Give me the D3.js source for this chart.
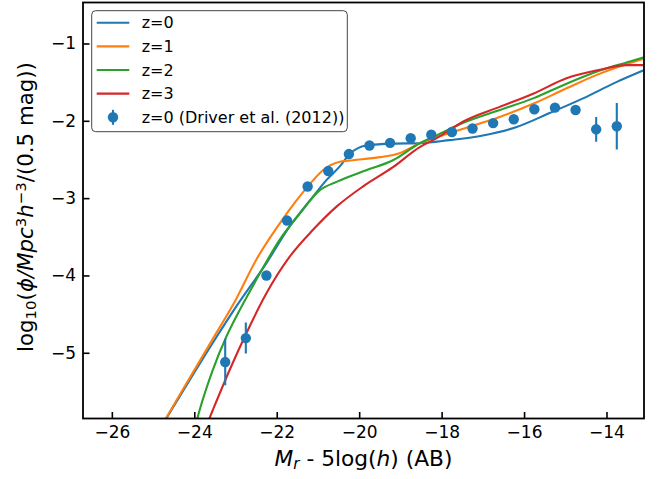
<!DOCTYPE html>
<html>
<head>
<meta charset="utf-8">
<script src="https://cdn.jsdelivr.net/npm/d3@7"></script>
<style>
  body { margin: 0; background: #fff; }
  svg { font-family: "DejaVu Sans", sans-serif; }
</style>
</head>
<body>
<svg id="chart" width="661" height="479"></svg>
<script>
// model luminosity functions, log10(phi) vs M_r - 5log(h)
var z0Mag = [-24.9, -24.68, -24.36, -23.55, -22.98, -22.25, -21.69, -21.12, -20.80, -20.47, -20.23, -19.83, -19.18, -18.53, -17.81, -17.00, -16.18, -15.38, -14.57, -13.76, -13.11];
var z0Phi = [-6.04, -5.85, -5.57, -4.87, -4.40, -3.84, -3.37, -2.98, -2.77, -2.59, -2.43, -2.32, -2.295, -2.29, -2.25, -2.19, -2.08, -1.90, -1.71, -1.50, -1.35];

var z1Mag = [-24.9, -24.36, -23.55, -22.98, -22.50, -21.93, -21.52, -21.12, -20.88, -20.47, -20.15, -19.50, -19.02, -18.53, -18.21, -17.40, -16.59, -15.78, -14.97, -14.16, -13.35, -13.11];
var z1Phi = [-6.04, -5.55, -4.82, -4.30, -3.80, -3.33, -3.03, -2.77, -2.64, -2.53, -2.51, -2.47, -2.42, -2.29, -2.23, -2.09, -1.95, -1.78, -1.58, -1.39, -1.24, -1.20];

var z2Mag = [-24.0, -23.87, -23.55, -23.22, -22.98, -22.50, -21.93, -21.44, -20.96, -20.55, -19.83, -19.18, -18.53, -18.21, -17.40, -16.59, -15.78, -14.97, -14.16, -13.35, -13.11];
var z2Phi = [-6.0, -5.74, -5.22, -4.79, -4.53, -4.06, -3.54, -3.20, -2.90, -2.79, -2.64, -2.51, -2.29, -2.21, -2.01, -1.86, -1.71, -1.52, -1.35, -1.22, -1.18];

var z3Mag = [-23.75, -23.55, -23.14, -22.74, -22.25, -21.69, -21.12, -20.55, -19.91, -19.18, -18.53, -18.21, -17.40, -16.59, -15.78, -14.97, -14.16, -13.51, -13.11];
var z3Phi = [-6.0, -5.74, -5.22, -4.75, -4.23, -3.76, -3.41, -3.11, -2.85, -2.60, -2.34, -2.25, -1.99, -1.82, -1.65, -1.45, -1.34, -1.28, -1.28];

// Driver et al. (2012) z=0 points
var obsMag = [-23.25, -22.75, -22.25, -21.75, -21.25, -20.75, -20.25, -19.75, -19.25, -18.75, -18.25, -17.75, -17.25, -16.75, -16.25, -15.75, -15.25, -14.75, -14.25, -13.75];
var obsPhi = [-5.12, -4.81, -4.00, -3.29, -2.85, -2.65, -2.43, -2.32, -2.285, -2.225, -2.18, -2.145, -2.10, -2.03, -1.98, -1.85, -1.83, -1.86, -2.11, -2.07];
var obsErr = [0.30, 0.20, 0.05, 0.03, 0.02, 0.02, 0.02, 0.02, 0.02, 0.02, 0.02, 0.02, 0.02, 0.02, 0.02, 0.02, 0.03, 0.04, 0.16, 0.30];

var seriesNames = ["z=0", "z=1", "z=2", "z=3"];
var seriesColors = ["#1f77b4", "#ff7f0e", "#2ca02c", "#d62728"];
var xTicks = [-26, -24, -22, -20, -18, -16, -14];
var yTicks = [-5, -4, -3, -2, -1];

var svg = d3.select("#chart");
var pLeft = 83, pRight = 644, pTop = 2.5, pBottom = 418.5;

var x = d3.scaleLinear().domain([-26.7, -13.09]).range([pLeft, pRight]);
var y = d3.scaleLinear().domain([-5.85, -0.47]).range([pBottom, pTop]);

svg.append("defs").append("clipPath").attr("id", "plotclip")
  .append("rect").attr("x", pLeft).attr("y", pTop)
  .attr("width", pRight - pLeft).attr("height", pBottom - pTop);

var plot = svg.append("g").attr("clip-path", "url(#plotclip)");

var line = d3.line()
  .x(function(d) { return x(d[0]); })
  .y(function(d) { return y(d[1]); })
  .curve(d3.curveMonotoneX);

var curves = [[z0Mag, z0Phi], [z1Mag, z1Phi], [z2Mag, z2Phi], [z3Mag, z3Phi]];
curves.forEach(function(c, i) {
  plot.append("path")
    .datum(d3.zip(c[0], c[1]))
    .attr("d", line)
    .attr("fill", "none")
    .attr("stroke", seriesColors[i])
    .attr("stroke-width", 2.1);
});

// observed points with error bars
var obs = d3.range(obsMag.length).map(function(i) {
  return { m: obsMag[i], p: obsPhi[i], e: obsErr[i] };
});
plot.selectAll(".err").data(obs).enter().append("line")
  .attr("x1", function(d) { return x(d.m); })
  .attr("x2", function(d) { return x(d.m); })
  .attr("y1", function(d) { return y(d.p - d.e); })
  .attr("y2", function(d) { return y(d.p + d.e); })
  .attr("stroke", "#1f77b4")
  .attr("stroke-width", 2.1);
plot.selectAll(".dot").data(obs).enter().append("circle")
  .attr("cx", function(d) { return x(d.m); })
  .attr("cy", function(d) { return y(d.p); })
  .attr("r", 5.2)
  .attr("fill", "#1f77b4");

// axes, ticks point inward
var fmt = d3.format("d");
var xAxis = svg.append("g")
  .attr("transform", "translate(0," + pBottom + ")")
  .call(d3.axisBottom(x).tickValues(xTicks).tickFormat(fmt).tickSize(-6.5).tickPadding(7.5));
var yAxis = svg.append("g")
  .attr("transform", "translate(" + pLeft + ",0)")
  .call(d3.axisLeft(y).tickValues(yTicks).tickFormat(fmt).tickSize(-6.5).tickPadding(7));

[xAxis, yAxis].forEach(function(a) {
  a.select(".domain").remove();
  a.selectAll(".tick line").attr("stroke", "#000").attr("stroke-width", 1.6);
  a.selectAll(".tick text").attr("fill", "#000").style("font-size", "17px")
    .style("font-family", "DejaVu Sans");
});

svg.append("rect")
  .attr("x", pLeft).attr("y", pTop)
  .attr("width", pRight - pLeft).attr("height", pBottom - pTop)
  .attr("fill", "none").attr("stroke", "#000").attr("stroke-width", 1.8);

// axis labels, sized so their length matches the original
function fitWidth(t, target) {
  var w = t.node().getBBox().width;
  var fs = parseFloat(t.style("font-size"));
  t.style("font-size", (fs * target / w) + "px");
}

var xl = svg.append("text")
  .attr("x", (pLeft + pRight) / 2).attr("y", 466)
  .attr("text-anchor", "middle")
  .style("font-size", "19px");
xl.append("tspan").attr("font-style", "italic").text("M");
xl.append("tspan").attr("font-style", "italic").attr("font-size", "0.7em").attr("dy", "0.2em").text("r");
xl.append("tspan").attr("dy", "-0.14em").text(" - 5log(");
xl.append("tspan").attr("font-style", "italic").text("h");
xl.append("tspan").text(") (AB)");
fitWidth(xl, 178);

var yl = svg.append("text")
  .attr("transform", "translate(33,207) rotate(-90)")
  .attr("text-anchor", "middle")
  .style("font-size", "19px");
yl.append("tspan").text("log");
yl.append("tspan").attr("font-size", "0.7em").attr("dy", "0.2em").text("10");
yl.append("tspan").attr("dy", "-0.14em").text("(");
yl.append("tspan").attr("font-style", "italic").text("ϕ/Mpc");
yl.append("tspan").attr("font-size", "0.7em").attr("dy", "-0.5em").text("3");
yl.append("tspan").attr("font-style", "italic").attr("dy", "0.35em").text("h");
yl.append("tspan").attr("font-size", "0.7em").attr("dy", "-0.5em").text("−3");
yl.append("tspan").attr("dy", "0.35em").text("/(0.5 mag))");
fitWidth(yl, 290);

// legend
var lg = svg.append("g");
lg.append("rect")
  .attr("x", 91.7).attr("y", 10.7).attr("width", 255.6).attr("height", 121)
  .attr("rx", 4).attr("fill", "#fff").attr("fill-opacity", 0.8)
  .attr("stroke", "#444").attr("stroke-width", 1);
var rowY = d3.scaleLinear().domain([0, 4]).range([22.7, 117.3]);
seriesNames.forEach(function(n, i) {
  lg.append("line")
    .attr("x1", 96.7).attr("x2", 129.3)
    .attr("y1", rowY(i)).attr("y2", rowY(i))
    .attr("stroke", seriesColors[i]).attr("stroke-width", 2.1);
  lg.append("text").attr("x", 141.7).attr("y", rowY(i)).attr("dy", "0.36em")
    .style("font-size", "16px").text(n);
});
lg.append("line")
  .attr("x1", 113).attr("x2", 113).attr("y1", rowY(4) - 7.5).attr("y2", rowY(4) + 7.5)
  .attr("stroke", "#1f77b4").attr("stroke-width", 2.1);
lg.append("circle").attr("cx", 113).attr("cy", rowY(4)).attr("r", 5.2).attr("fill", "#1f77b4");
lg.append("text").attr("x", 141.7).attr("y", rowY(4)).attr("dy", "0.36em")
  .style("font-size", "16px").text("z=0 (Driver et al. (2012))");
</script>
</body>
</html>
